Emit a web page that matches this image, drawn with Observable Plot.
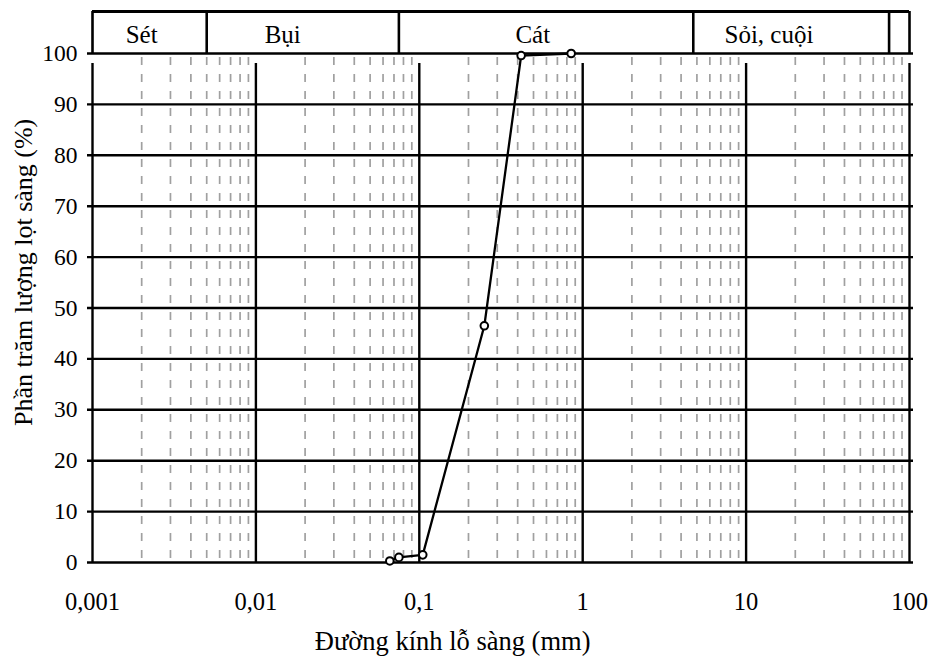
<!DOCTYPE html>
<html><head><meta charset="utf-8">
<script src="https://cdn.jsdelivr.net/npm/d3@7"></script>
<script src="https://cdn.jsdelivr.net/npm/@observablehq/plot@0.6"></script>
<style>body{margin:0;background:#fff}</style>
</head><body><div id="chart"></div>
<script>
// Data
const diameters = [0.066, 0.075, 0.105, 0.25, 0.42, 0.85];
const passing   = [0.3, 1.0, 1.5, 46.5, 99.6, 100];
const xTicks = [0.001, 0.01, 0.1, 1, 10, 100];
const xTickLabels = ["0,001", "0,01", "0,1", "1", "10", "100"];
const yTicks = [0, 10, 20, 30, 40, 50, 60, 70, 80, 90, 100];
const soilNames = ["Sét", "Bụi", "Cát", "Sỏi, cuội"];
const soilBounds = [0.005, 0.075, 4.75, 75];
const soilLabelAt = [0.00200, 0.0146, 0.495, 13.8];
const xTitle = "Đường kính lỗ sàng (mm)";
const yTitle = "Phần trăm lượng lọt sàng (%)";

const pts = diameters.map((d, i) => ({d, p: passing[i]}));
const minor = [];
for (const dec of xTicks.slice(0, -1)) for (let k = 2; k <= 9; k++) minor.push(dec * k);

const FONT = "Liberation Serif, Times New Roman, serif";
const BAND_TOP = 108.25;
const T = {fill: "black", fontFamily: FONT};

const chart = Plot.plot({
  width: 939, height: 660,
  marginLeft: 92, marginRight: 30, marginTop: 53, marginBottom: 98,
  x: {type: "log", domain: [0.001, 100], axis: null},
  y: {domain: [0, 100], axis: null},
  style: {fontFamily: FONT, fontSize: "24px", background: "white", color: "black"},
  marks: [
    Plot.ruleX(minor, {x: d => d, y1: 100, y2: 0, stroke: "#a0a0a0", strokeWidth: 1.7,
      strokeDasharray: "8,9", strokeDashoffset: 13}),
    Plot.ruleY(yTicks, {y: d => d, x1: 0.001, x2: 100, stroke: "black", strokeWidth: 2.4,
      insetLeft: -5, insetRight: -4}),
    Plot.ruleX(xTicks, {x: d => d, y1: 0, y2: 100, stroke: "black", strokeWidth: 2.4, insetBottom: -10}),
    Plot.ruleX([0.001, 100], {x: d => d, y1: 100, y2: BAND_TOP, stroke: "black", strokeWidth: 2.6}),
    Plot.ruleX(soilBounds, {x: d => d, y1: 100, y2: BAND_TOP, stroke: "black", strokeWidth: 2.6}),
    Plot.ruleY([BAND_TOP], {y: d => d, x1: 0.001, x2: 100, stroke: "black", strokeWidth: 2.8}),
    Plot.text(soilNames, {x: (d, i) => soilLabelAt[i], y: 103.6, text: d => d, fontSize: 25, ...T}),
    Plot.line(pts, {x: "d", y: "p", stroke: "black", strokeWidth: 2.3}),
    Plot.dot(pts, {x: "d", y: "p", r: 3.8, fill: "white", stroke: "black", strokeWidth: 2}),
    Plot.text(yTicks, {x: 0.001, y: d => d, text: d => String(d), textAnchor: "end", dx: -15, fontSize: 23.5, ...T}),
    Plot.text(xTicks, {x: d => d, y: 0, text: (d, i) => xTickLabels[i], dy: 40, fontSize: 24.5, ...T}),
    Plot.text([xTitle], {x: 0.16, y: 0, text: d => d, dy: 79, fontSize: 26.5, ...T}),
    Plot.text([yTitle], {x: 0.001, y: 57, text: d => d, dx: -69, rotate: -90, fontSize: 26, ...T})
  ]
});
document.getElementById("chart").appendChild(chart);
</script>
</body></html>
